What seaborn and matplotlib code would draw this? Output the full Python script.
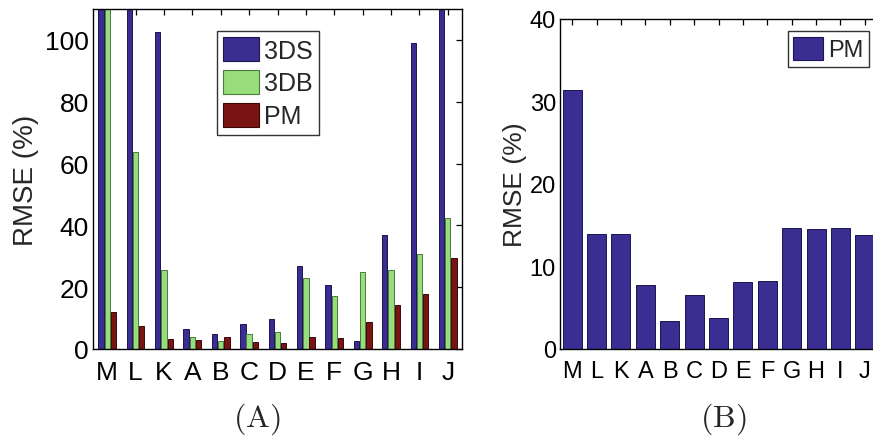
import numpy as np
import pandas as pd
import matplotlib
matplotlib.use("Agg")
import matplotlib.pyplot as plt
from matplotlib.patches import Patch
import seaborn as sns

# ---- data -------------------------------------------------------------
sites = ["M", "L", "K", "A", "B", "C", "D", "E", "F", "G", "H", "I", "J"]
methods = ["3DS", "3DB", "PM"]

rmse_3ds = [160.0, 145.0, 102.6, 6.4, 4.8, 8.0, 9.6, 26.8, 20.6, 2.6, 36.9, 98.9, 120.0]
rmse_3db = [135.0, 63.7, 25.4, 4.0, 2.5, 4.9, 5.6, 22.9, 17.1, 24.9, 25.5, 30.7, 42.5]
rmse_pm = [12.0, 7.5, 3.1, 2.8, 3.8, 2.3, 1.9, 3.8, 3.5, 8.8, 14.3, 17.9, 29.3]

rmse_pm_b = [31.4, 14.0, 14.0, 7.8, 3.4, 6.5, 3.8, 8.1, 8.3, 14.7, 14.6, 14.7, 13.8]

yticks_a = [0, 20, 40, 60, 80, 100]
yticks_b = [0, 10, 20, 30, 40]

colors = {"3DS": "#3a2e92", "3DB": "#97dd7c", "PM": "#7a1412"}
edges = {"3DS": "#1c1650", "3DB": "#4a7a3c", "PM": "#3a0806"}

# ---- styling ----------------------------------------------------------
sns.set_theme(style="white")
plt.rcParams["font.family"] = ["Liberation Sans", "DejaVu Sans"]
plt.rcParams["mathtext.fontset"] = "cm"

W, H = 873, 439
fig = plt.figure(figsize=(W / 100, H / 100), dpi=100)


def px_axes(x0, x1, y0, y1):
    return fig.add_axes([x0 / W, 1 - y1 / H, (x1 - x0) / W, (y1 - y0) / H])


def style_axes(ax, size, right=True):
    for s in ax.spines.values():
        s.set_linewidth(1.0)
        s.set_color("black")
        s.set_visible(True)
    ax.tick_params(direction="in", length=4, width=0.9, top=True, right=right,
                   labelsize=size, colors="black", pad=3)
    ax.tick_params(axis="x", pad=8)
    ax.set_xlabel("")


# ---- panel A ----------------------------------------------------------
df = pd.DataFrame({
    "site": sites * 3,
    "method": [m for m in methods for _ in sites],
    "rmse": rmse_3ds + rmse_3db + rmse_pm,
})

axA = px_axes(93, 462, 10, 350)
sns.barplot(data=df, x="site", y="rmse", hue="method", order=sites,
            hue_order=methods, palette=colors, saturation=1, width=0.66, gap=0.15,
            linewidth=0.7, legend=False, ax=axA)
for cont, m in zip(axA.containers, methods):
    for bar in cont:
        bar.set_edgecolor(edges[m])

axA.set_ylim(0, 110)
axA.set_xlim(-0.5, len(sites) - 0.5)
axA.set_yticks(yticks_a)
axA.set_ylabel("RMSE (%)", fontsize=20, labelpad=4)
style_axes(axA, 19)

handles = [Patch(facecolor=colors[m], edgecolor=edges[m], linewidth=0.8) for m in methods]
legA = axA.legend(handles, methods, loc="upper left",
                  bbox_to_anchor=(217 / W, 1 - 32 / H), bbox_transform=fig.transFigure,
                  borderaxespad=0, fontsize=18, handlelength=1.44, handleheight=1.08,
                  handletextpad=0.2, labelspacing=0.3, borderpad=0.25,
                  fancybox=False, frameon=True)
legA.get_frame().set_edgecolor("black")
legA.get_frame().set_linewidth(1.0)

fig.text(257 / W, 1 - 419 / H, r"$\mathrm{(A)}$", fontsize=23,
         ha="center", va="center")

# ---- panel B ----------------------------------------------------------
axB = px_axes(560, 877, 20, 350)
sns.barplot(x=sites, y=rmse_pm_b, color=colors["3DS"], saturation=1, width=0.78,
            edgecolor=edges["3DS"], linewidth=0.7, ax=axB)
axB.set_ylim(0, 40)
axB.set_xlim(-0.5, len(sites) - 0.5)
axB.set_yticks(yticks_b)
style_axes(axB, 17, right=False)
axB.set_ylabel("RMSE (%)", fontsize=19, labelpad=2)

legB = axB.legend([Patch(facecolor=colors["3DS"], edgecolor=edges["3DS"], linewidth=0.8)],
                  ["PM"], loc="upper right",
                  bbox_to_anchor=(869 / W, 1 - 32 / H), bbox_transform=fig.transFigure,
                  borderaxespad=0, fontsize=17, handlelength=1.25, handleheight=1.1,
                  handletextpad=0.2, borderpad=0.25, fancybox=False, frameon=True)
legB.get_frame().set_edgecolor("black")
legB.get_frame().set_linewidth(1.0)

fig.text(723 / W, 1 - 419 / H, r"$\mathrm{(B)}$", fontsize=23,
         ha="center", va="center")

fig.savefig("out.png", dpi=100, facecolor="white")
